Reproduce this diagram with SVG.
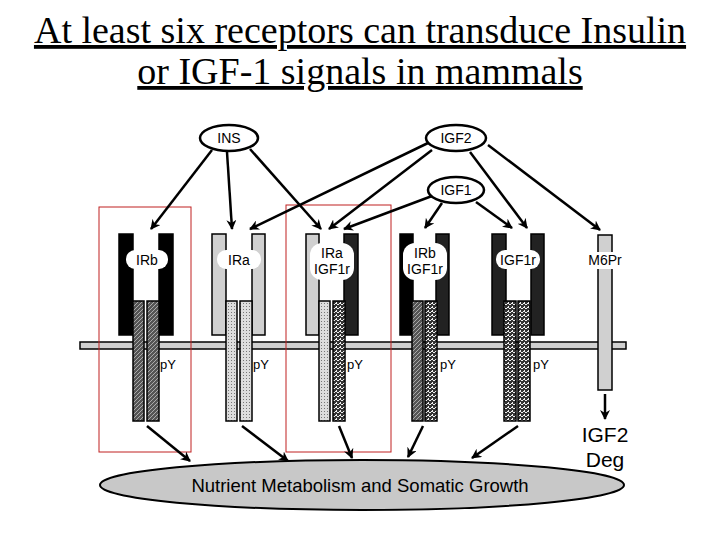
<svg xmlns="http://www.w3.org/2000/svg" width="720" height="540" viewBox="0 0 720 540">
<style>
.t{font-family:"Liberation Sans",Arial,sans-serif;fill:#000}
.lig{font-family:"Liberation Sans",Arial,sans-serif;font-size:14px;text-anchor:middle}
.py{font-family:"Liberation Sans",Arial,sans-serif;font-size:13px}
.arm{stroke:#000;stroke-width:1.5}
.blk{fill:#000}.gry{fill:#d0d0d0}
.c line{stroke:#000;stroke-width:2.5;marker-end:url(#ah)}
.red{fill:none;stroke:#c02020;stroke-width:1}
.lab{fill:#fff}
</style>
<defs>
<marker id="ah" viewBox="0 0 10 10" refX="9" refY="5" markerWidth="4" markerHeight="4" orient="auto"><path d="M0,0L10,5L0,10L3,5z" fill="#000"/></marker>
<pattern id="hat" width="4" height="4" patternUnits="userSpaceOnUse"><rect width="4" height="4" fill="#555"/><path d="M0,4L4,0" stroke="#aaa" stroke-width="1"/></pattern>
<pattern id="dot" width="3" height="3" patternUnits="userSpaceOnUse"><rect width="3" height="3" fill="#ddd"/><rect width="1" height="1" fill="#777"/></pattern>
<pattern id="spk" width="4" height="4" patternUnits="userSpaceOnUse"><rect width="4" height="4" fill="#333"/><rect x="1" y="0" width="2" height="1" fill="#eee"/><rect x="0" y="2" width="1" height="2" fill="#eee"/><rect x="3" y="3" width="1" height="1" fill="#eee"/></pattern>
</defs>
<rect width="720" height="540" fill="#fff"/>
<g id="title" font-family="Liberation Serif,Times New Roman,serif" font-size="38" text-anchor="middle" text-decoration="underline">
<text x="360" y="43">At least six receptors can transduce Insulin</text>
<text x="360" y="84">or IGF-1 signals in mammals</text>
</g>
<rect x="80" y="342" width="546" height="7" fill="#d0d0d0" stroke="#000" stroke-width="1.5" id="membrane"/>
<g id="ligands" fill="#fff" stroke="#000" stroke-width="2.5">
<ellipse cx="229" cy="138" rx="29" ry="13"/><ellipse cx="456" cy="138" rx="30" ry="13"/><ellipse cx="456" cy="190" rx="28" ry="13"/>
</g>
<g class="lig"><text x="229" y="143">INS</text><text x="456" y="143">IGF2</text><text x="456" y="195">IGF1</text></g>
<g id="IRb"><rect class="arm blk" x="119" y="234" width="14" height="101"/><rect class="arm blk" x="159" y="234" width="14" height="101"/>
<rect class="arm" fill="url(#hat)" x="133" y="301" width="11" height="120"/><rect class="arm" fill="url(#hat)" x="147" y="301" width="12" height="120"/>
<rect class="lab" x="126" y="250" width="42" height="19" rx="9"/><text class="lig" x="147" y="265">IRb</text><text class="py" x="160" y="369">pY</text></g>
<g id="IRa"><rect class="arm gry" x="212" y="234" width="14" height="101"/><rect class="arm gry" x="252" y="234" width="13" height="101"/>
<rect class="arm" fill="url(#dot)" x="226" y="301" width="11" height="120"/><rect class="arm" fill="url(#dot)" x="240" y="301" width="12" height="120"/>
<rect class="lab" x="217" y="250" width="44" height="19" rx="9"/><text class="lig" x="239" y="265">IRa</text><text class="py" x="253" y="369">pY</text></g>
<g id="IRaIGF1r"><rect class="arm gry" x="306" y="234" width="13" height="101"/><rect class="arm" fill="#222" x="344" y="234" width="14" height="101"/>
<rect class="arm" fill="url(#dot)" x="319" y="301" width="11" height="120"/><rect class="arm" fill="url(#spk)" x="333" y="301" width="12" height="120"/>
<rect class="lab" x="310" y="243" width="44" height="37" rx="12"/><text class="lig" x="332" y="258">IRa</text><text class="lig" x="332" y="274">IGF1r</text><text class="py" x="347" y="369">pY</text></g>
<g id="IRbIGF1r"><rect class="arm blk" x="400" y="234" width="13" height="101"/><rect class="arm" fill="#222" x="436" y="234" width="13" height="101"/>
<rect class="arm" fill="url(#hat)" x="412" y="301" width="11" height="120"/><rect class="arm" fill="url(#spk)" x="425" y="301" width="12" height="120"/>
<rect class="lab" x="403" y="243" width="44" height="37" rx="12"/><text class="lig" x="425" y="258">IRb</text><text class="lig" x="425" y="274">IGF1r</text><text class="py" x="440" y="369">pY</text></g>
<g id="IGF1r"><rect class="arm" fill="#222" x="492" y="234" width="14" height="101"/><rect class="arm" fill="#222" x="531" y="234" width="13" height="101"/>
<rect class="arm" fill="url(#spk)" x="504" y="301" width="12" height="120"/><rect class="arm" fill="url(#spk)" x="518" y="301" width="12" height="120"/>
<rect class="lab" x="496" y="250" width="44" height="19" rx="9"/><text class="lig" x="518" y="265">IGF1r</text><text class="py" x="533" y="369">pY</text></g>
<g id="M6Pr"><rect class="arm gry" x="598" y="235" width="14" height="155"/><rect class="lab" x="584" y="252" width="42" height="17" rx="8"/><text class="lig" x="605" y="265" font-size="13">M6Pr</text></g>
<g id="deg" class="t" font-size="21" text-anchor="middle"><text x="605" y="442">IGF2</text><text x="605" y="467">Deg</text></g>
<g id="outcome"><ellipse cx="362" cy="485" rx="262" ry="25" fill="#c8c8c8" stroke="#000" stroke-width="2"/>
<text class="t" x="360" y="492" font-size="18.5" text-anchor="middle">Nutrient Metabolism and Somatic Growth</text></g>
<rect class="red" x="99" y="207" width="92" height="245"/><rect class="red" x="286" y="205" width="105" height="247"/>
<g id="connectors" class="c">
<line x1="212" y1="150" x2="151" y2="229"/><line x1="227" y1="152" x2="232" y2="229"/><line x1="250" y1="149" x2="321" y2="229"/>
<line x1="428" y1="143" x2="250" y2="229"/><line x1="432" y1="150" x2="329" y2="229"/><line x1="432" y1="196" x2="344" y2="229"/>
<line x1="442" y1="203" x2="425" y2="228"/><line x1="476" y1="202" x2="512" y2="228"/><line x1="470" y1="152" x2="527" y2="228"/>
<line x1="488" y1="145" x2="600" y2="230"/><line x1="605" y1="394" x2="605" y2="419"/>
<line x1="147" y1="426" x2="190" y2="461"/><line x1="242" y1="426" x2="288" y2="461"/><line x1="339" y1="426" x2="352" y2="458"/>
<line x1="423" y1="426" x2="408" y2="457"/><line x1="518" y1="426" x2="472" y2="458"/>
</g>
</svg>
